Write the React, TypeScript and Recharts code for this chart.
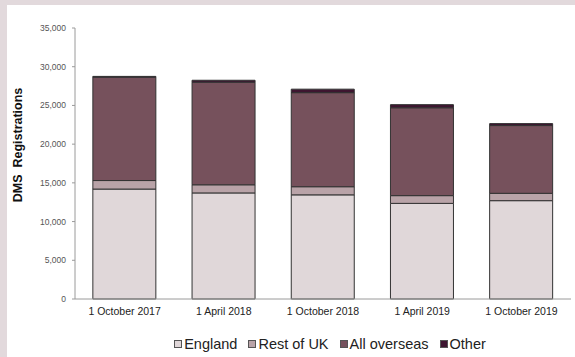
import { Bar, BarChart, XAxis, YAxis } from "recharts";

const dates = [
  "1 October 2017",
  "1 April 2018",
  "1 October 2018",
  "1 April 2019",
  "1 October 2019",
];
const england = [14200, 13700, 13450, 12350, 12700];
const restOfUk = [1100, 1050, 1050, 1000, 950];
const allOverseas = [13350, 13250, 12150, 11350, 8750];
const other = [100, 250, 450, 400, 250];
const yTicks = [0, 5000, 10000, 15000, 20000, 25000, 30000, 35000];

const seriesNames = ["England", "Rest of UK", "All overseas", "Other"];
const seriesKeys = ["england", "restOfUk", "allOverseas", "other"];
const seriesColors = ["#e0d7d9", "#b9a3a8", "#76515c", "#3e1530"];

const data = dates.map((date, i) => ({
  date,
  england: england[i],
  restOfUk: restOfUk[i],
  allOverseas: allOverseas[i],
  other: other[i],
}));

const font = "'Liberation Sans', Arial, sans-serif";

const AxisTitle = () => (
  <text
    x={18}
    y={145}
    transform="rotate(-90 18 145)"
    textAnchor="middle"
    dominantBaseline="central"
    fontFamily={font}
    fontWeight={700}
    fontSize={12.5}
    fill="#111"
  >
    {"DMS\u00a0 Registrations"}
  </text>
);

const App = () => {
  return (
    <div
      style={{
        position: "absolute",
        left: 0,
        top: 0,
        width: 575,
        height: 357,
        background: "#e2d9dc",
        fontFamily: font,
      }}
    >
      <div
        style={{
          position: "absolute",
          left: 7,
          top: 5,
          width: 568,
          height: 352,
          background: "#ffffff",
        }}
      />
      <div style={{ position: "absolute", left: 0, top: 0 }}>
        <BarChart
          width={575}
          height={357}
          data={data}
          margin={{ top: 28, right: 4, left: 0, bottom: 0 }}
          barCategoryGap="18%"
        >
          <XAxis
            dataKey="date"
            height={58}
            tickLine={false}
            tickSize={6}
            tickMargin={3}
            axisLine={{ stroke: "#9a9a9a" }}
            tick={{ fontSize: 10.5, fill: "#222", fontFamily: font }}
            interval={0}
          />
          <YAxis
            width={75}
            domain={[0, 35000]}
            ticks={yTicks}
            tickSize={3}
            tickMargin={6}
            axisLine={{ stroke: "#9a9a9a" }}
            tickLine={{ stroke: "#9a9a9a" }}
            tick={{ fontSize: 8.5, fill: "#555", fontFamily: font }}
            tickFormatter={(v: number) => v.toLocaleString("en-US")}
            label={<AxisTitle />}
          />
          {seriesKeys.map((key, i) => (
            <Bar
              key={key}
              dataKey={key}
              name={seriesNames[i]}
              stackId="a"
              fill={seriesColors[i]}
              stroke="#333"
              strokeWidth={1}
              isAnimationActive={false}
            />
          ))}
        </BarChart>
      </div>
      <div
        style={{
          position: "absolute",
          left: 0,
          top: 336,
          width: 660,
          display: "flex",
          justifyContent: "center",
          fontSize: 14.5,
          color: "#222",
          lineHeight: "16px",
        }}
      >
        {seriesNames.map((name, i) => (
          <div
            key={name}
            style={{
              display: "flex",
              alignItems: "center",
              marginRight: i < seriesNames.length - 1 ? 11 : 0,
            }}
          >
            <span
              style={{
                display: "inline-block",
                width: 6,
                height: 6,
                background: seriesColors[i],
                border: "1px solid #555",
                marginRight: 2,
              }}
            />
            <span>{name}</span>
          </div>
        ))}
      </div>
    </div>
  );
};

export default App;
